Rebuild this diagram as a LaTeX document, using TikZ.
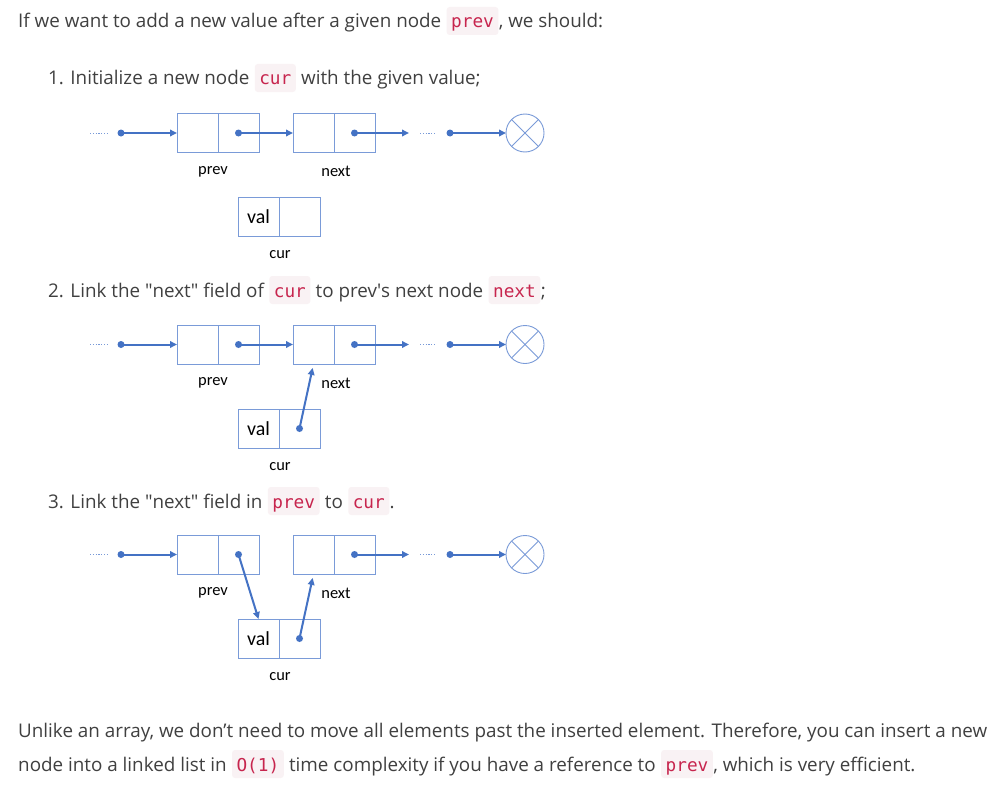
\documentclass[tikz,border=0pt]{standalone}
\usepackage{fontspec}
\setmainfont{Open Sans}
\setmonofont{DejaVu Sans Mono}
\newfontfamily\figfont{Carlito}
\usetikzlibrary{arrows.meta,positioning}
\definecolor{bodygray}{RGB}{64,64,64}
\definecolor{codered}{RGB}{199,37,78}
\definecolor{codebg}{RGB}{249,242,244}
\definecolor{lnkblue}{RGB}{68,114,196}
\definecolor{boxblue}{RGB}{122,155,216}

\begin{document}
\begin{tikzpicture}[x=1bp,y=-1bp,
  txt/.style={inner sep=0pt,anchor=base west,text=bodygray,font=\fontsize{18.9}{22}\selectfont},
  code/.style={anchor=base west,fill=codebg,text=codered,rounded corners=3bp,inner xsep=4.5bp,inner ysep=0pt,
    text height=21bp,text depth=7bp,font=\ttfamily\fontsize{17.8}{20}\selectfont},
  cell/.style={draw=boxblue,line width=0.9bp,minimum width=41bp,minimum height=39bp,inner sep=0pt,outer sep=0pt,
    font=\figfont\fontsize{20}{22}\selectfont},
  nil/.style={circle,draw=boxblue,line width=0.9bp,minimum size=38bp,inner sep=0pt,outer sep=0pt},
  lnk/.style={draw=lnkblue,line width=2bp,-{Triangle[length=7bp,width=6.5bp]}},
  dot/.style={fill=lnkblue},
  more/.style={draw=boxblue,line width=1bp,dash pattern=on 1.2bp off 1.6bp},
  lbl/.style={font=\figfont\fontsize{16.5}{18}\selectfont,inner sep=0pt}]

\fill[white] (0,0) rectangle (1004,791);
\useasboundingbox (0,0) rectangle (1004,791);

% text
\node[txt] (l0a) at (18,28) {If we want to add a new value after a given node};
\node[code] (l0b) at ([xshift=5bp]l0a.base east) {prev};
\node[txt] (l0c) at (l0b.base east) {, we should:};

\node[txt] (l1a) at (48,85) {1. Initialize a new node};
\node[code] (l1b) at ([xshift=5bp]l1a.base east) {cur};
\node[txt] (l1c) at (l1b.base east) {\ with the given value;};

\node[txt] (l2a) at (48,297) {2. Link the \textquotedbl next\textquotedbl\ field of};
\node[code] (l2b) at ([xshift=5bp]l2a.base east) {cur};
\node[txt] (l2c) at (l2b.base east) {\ to prev\textquotesingle s next node};
\node[code] (l2d) at ([xshift=5bp]l2c.base east) {next};
\node[txt] (l2e) at (l2d.base east) {;};

\node[txt] (l3a) at (48,508) {3. Link the \textquotedbl next\textquotedbl\ field in};
\node[code] (l3b) at ([xshift=5bp]l3a.base east) {prev};
\node[txt] (l3c) at (l3b.base east) {\ to};
\node[code] (l3d) at ([xshift=5bp]l3c.base east) {cur};
\node[txt] (l3e) at (l3d.base east) {.};

\node[txt] (l4a) at (18,737) {Unlike an array, we don’t need to move all elements past the inserted element. Therefore, you can insert a new};
\node[txt] (l5a) at (18,771) {node into a linked list in};
\node[code] (l5b) at ([xshift=5bp]l5a.base east) {O(1)};
\node[txt] (l5c) at (l5b.base east) {\ time complexity if you have a reference to};
\node[code] (l5d) at ([xshift=5bp]l5c.base east) {prev};
\node[txt] (l5e) at (l5d.base east) {, which is very efficient.};

% the three lists
\foreach \r/\y in {1/133,2/344.5,3/554.5}{
  \coordinate (d\r) at (90,\y);
  \coordinate (dd\r) at (107,\y);
  \coordinate (s\r) at (121,\y);
  \node[cell] (pa\r) at (197.5,\y) {};
  \node[cell,right=0pt of pa\r] (pb\r) {};
  \node[cell] (na\r) at (313.5,\y) {};
  \node[cell,right=0pt of na\r] (nb\r) {};
  \coordinate (e\r) at (409,\y);
  \coordinate (f\r) at (420,\y);
  \coordinate (ff\r) at (436,\y);
  \coordinate (t\r) at (450,\y);
  \node[nil] (z\r) at (525,\y) {};
  \node[cell] (ca\r) at (258.5,\y+84) {val};
  \node[cell,right=0pt of ca\r] (cb\r) {};
  \node[lbl] (lp\r) at (213,\y+38.5) {prev};
  \node[lbl] (ln\r) at (336,\y+38.5) {next};
  \node[lbl] (lc\r) at (280,\y+122) {cur};

  \draw[boxblue,line width=0.9bp] (z\r.45) -- (z\r.225) (z\r.135) -- (z\r.315);
  \draw[more] (d\r) -- (dd\r);
  \draw[more] (f\r) -- (ff\r);
  \fill[dot] (s\r) circle (3.5bp);
  \draw[lnk] (s\r) -- (pa\r.west);
  \fill[dot] (nb\r.center) circle (3.5bp);
  \draw[lnk] (nb\r.center) -- (e\r);
  \fill[dot] (t\r) circle (3.5bp);
  \draw[lnk] (t\r) -- (z\r.west);
}

% prev -> next
\foreach \r in {1,2}{
  \fill[dot] (pb\r.center) circle (3.5bp);
  \draw[lnk] (pb\r.center) -- (na\r.west);
}
% cur -> next
\foreach \r in {2,3}{
  \fill[dot] (cb\r.center) circle (3.5bp);
  \draw[lnk,shorten >=4bp] (cb\r.center) -- (na\r.south);
}
% prev -> cur
\fill[dot] (pb3.center) circle (3.5bp);
\draw[lnk] (pb3.center) -- (ca3.north);
\end{tikzpicture}
\end{document}
